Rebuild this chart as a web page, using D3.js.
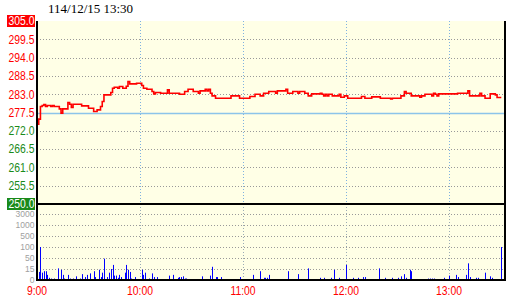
<!DOCTYPE html>
<html>
<head>
<meta charset="utf-8">
<script src="https://cdn.jsdelivr.net/npm/d3@7.9.0/dist/d3.min.js"></script>
<style>
  body { margin: 0; background: #fff; }
  svg { display: block; }
  text { font-family: 'Liberation Sans', Arial, sans-serif; }
  text.title { font-family: 'Liberation Serif', serif; }
</style>
</head>
<body>
<svg id="chart"></svg>
<script>
// data (time of trade, price / volume)
const title = '114/12/15 13:30';
const priceTicks = [305.0, 299.5, 294.0, 288.5, 283.0, 277.5, 272.0, 266.5, 261.0, 255.5, 250.0];
const refPrice = 277.5;
const volTicks = [0, 15, 50, 100, 500, 1000, 3000];
const hourTicks = ['9:00', '10:00', '11:00', '12:00', '13:00'];

const priceTimes = ['9:00', '9:01', '9:02', '9:03', '9:04', '9:05', '9:06', '9:08', '9:09', '9:10',
  '9:13', '9:14', '9:15', '9:18', '9:19', '9:20', '9:21', '9:26', '9:30', '9:33',
  '9:35', '9:37', '9:38', '9:39', '9:43', '9:44', '9:45', '9:47', '9:48', '9:50',
  '9:52', '9:53', '9:54', '9:58', '10:01', '10:02', '10:04', '10:07', '10:08', '10:09',
  '10:12', '10:16', '10:17', '10:23', '10:26', '10:28', '10:31', '10:34', '10:35', '10:38',
  '10:39', '10:40', '10:41', '10:42', '10:44', '10:53', '10:58', '11:04', '11:07', '11:10',
  '11:12', '11:15', '11:19', '11:20', '11:25', '11:26', '11:29', '11:32', '11:33', '11:36',
  '11:38', '11:40', '11:45', '11:46', '11:47', '11:48', '11:49', '11:50', '11:52', '11:56',
  '11:57', '11:59', '12:01', '12:09', '12:11', '12:15', '12:20', '12:26', '12:27', '12:32',
  '12:34', '12:35', '12:38', '12:43', '12:44', '12:46', '12:50', '12:51', '12:52', '12:53',
  '12:54', '13:05', '13:11', '13:12', '13:18', '13:19', '13:21', '13:24', '13:27', '13:28', '13:30'];
const prices = [274.0, 275.5, 279.3, 279.6, 279.9, 279.3, 279.6, 279.3, 279.6, 279.3,
  278.6, 277.3, 278.6, 280.5, 280.0, 279.0, 280.0, 279.5, 278.8, 277.8,
  278.3, 279.3, 280.8, 282.8, 283.5, 284.8, 285.1, 284.8, 285.3, 284.8,
  285.4, 286.8, 286.1, 286.3, 285.6, 284.8, 284.5, 283.8, 283.1, 283.5,
  283.3, 284.3, 283.3, 283.0, 283.8, 284.5, 283.8, 283.3, 284.0, 284.5,
  284.0, 284.5, 283.3, 282.5, 281.8, 282.5, 281.8, 282.3, 283.0, 282.5,
  283.3, 283.8, 283.3, 284.0, 284.5, 283.3, 283.8, 283.3, 283.8, 283.3,
  282.5, 283.1, 283.3, 283.0, 282.5, 283.0, 282.5, 283.0, 282.5, 283.0,
  282.1, 282.5, 281.8, 282.3, 281.8, 282.2, 281.8, 281.6, 281.8, 282.5,
  283.8, 283.3, 282.5, 282.1, 282.5, 283.0, 282.5, 283.3, 283.0, 282.5,
  283.1, 283.3, 284.0, 282.5, 283.3, 282.5, 281.8, 283.1, 282.8, 282.0, 281.8];

const volTimes = ['9:00', '9:01', '9:02', '9:03', '9:04', '9:05', '9:06', '9:07', '9:08', '9:09',
  '9:10', '9:11', '9:12', '9:14', '9:15', '9:16', '9:18', '9:19', '9:21', '9:22',
  '9:23', '9:25', '9:26', '9:28', '9:29', '9:31', '9:33', '9:34', '9:36', '9:37',
  '9:38', '9:39', '9:41', '9:42', '9:43', '9:44', '9:45', '9:46', '9:47', '9:48',
  '9:49', '9:51', '9:52', '9:53', '9:54', '9:55', '9:57', '9:58', '9:59', '10:01',
  '10:02', '10:03', '10:05', '10:07', '10:08', '10:10', '10:12', '10:14', '10:15', '10:17',
  '10:19', '10:22', '10:23', '10:24', '10:25', '10:26', '10:27', '10:32', '10:36', '10:41',
  '10:42', '10:44', '10:45', '10:47', '10:58', '11:06', '11:08', '11:09', '11:10', '11:12',
  '11:13', '11:14', '11:15', '11:17', '11:19', '11:21', '11:23', '11:24', '11:26', '11:28',
  '11:31', '11:32', '11:34', '11:36', '11:38', '11:39', '11:40', '11:45', '11:47', '11:51',
  '11:53', '11:56', '12:00', '12:01', '12:02', '12:03', '12:04', '12:07', '12:10', '12:11',
  '12:15', '12:17', '12:19', '12:20', '12:23', '12:27', '12:28', '12:30', '12:31', '12:32',
  '12:33', '12:34', '12:35', '12:37', '12:38', '12:40', '12:47', '12:48', '12:49', '12:50',
  '12:51', '12:54', '12:56', '12:57', '12:59', '13:00', '13:02', '13:04', '13:05', '13:08',
  '13:10', '13:11', '13:12', '13:16', '13:17', '13:19', '13:21', '13:22', '13:24', '13:25', '13:30'];
const volumes = [35, 11, 100, 10, 12, 12, 7, 3, 2, 1,
  2, 1, 17, 14, 7, 2, 7, 2, 2, 1,
  5, 2, 8, 4, 7, 9, 12, 4, 14, 4,
  10, 48, 4, 10, 15, 28, 6, 6, 3, 7,
  4, 10, 28, 14, 11, 2, 4, 1, 1, 14,
  7, 10, 2, 9, 4, 4, 1, 1, 1, 6,
  7, 3, 4, 4, 5, 2, 2, 1, 5, 6,
  22, 4, 4, 4, 4, 7, 1, 1, 12, 3,
  3, 3, 7, 1, 1, 1, 1, 1, 12, 1,
  1, 8, 1, 1, 17, 1, 1, 3, 3, 3,
  14, 3, 28, 1, 1, 1, 3, 3, 4, 4,
  1, 1, 17, 1, 3, 3, 1, 3, 1, 5,
  1, 8, 3, 14, 12, 1, 1, 2, 2, 2,
  2, 1, 1, 3, 1, 6, 1, 7, 4, 1,
  7, 33, 4, 3, 3, 1, 10, 1, 5, 3, 100];

const toMin = (s) => {
  const [h, m] = s.split(':').map(Number);
  return (h - 9) * 60 + m;
};

const width = 520;
const height = 300;
const plotLeft = 37;
const plotRight = 505;
const plotTop = 21;
const plotSplit = 204;
const plotBottom = 280;
const squeeze = 0.865; // labels in the reference use a narrow face

const svg = d3.select('#chart').attr('width', width).attr('height', height);

const xScale = d3.scaleLinear().domain([0, 270]).range([plotLeft, 500.5]);
const yScale = d3.scaleLinear().domain([250, 305]).range([plotSplit, plotTop]);
const vScale = d3
  .scaleLinear()
  .domain(volTicks)
  .range(volTicks.map((d, i) => plotBottom - i * 11))
  .clamp(true);

// panel background
svg.append('rect')
  .attr('x', plotLeft).attr('y', plotTop)
  .attr('width', plotRight - plotLeft).attr('height', plotBottom - plotTop)
  .attr('fill', '#ffffe6');

// price grid
svg.append('g')
  .selectAll('line')
  .data(priceTicks.filter((d) => d !== refPrice && d !== 305 && d !== 250))
  .join('line')
  .attr('x1', plotLeft).attr('x2', plotRight)
  .attr('y1', (d) => Math.round(yScale(d)) + 0.5)
  .attr('y2', (d) => Math.round(yScale(d)) + 0.5)
  .attr('stroke', '#999')
  .attr('stroke-dasharray', '1,2');

// volume grid
svg.append('g')
  .selectAll('line')
  .data(volTicks.slice(1))
  .join('line')
  .attr('x1', plotLeft).attr('x2', plotRight)
  .attr('y1', (d) => Math.round(vScale(d)) + 0.5)
  .attr('y2', (d) => Math.round(vScale(d)) + 0.5)
  .attr('stroke', '#999')
  .attr('stroke-dasharray', '1,2');

// hour grid
const hourGrid = svg.append('g')
  .selectAll('g')
  .data(hourTicks.slice(1))
  .join('g');
hourGrid.append('line')
  .attr('x1', (d) => Math.round(xScale(toMin(d))) + 0.5)
  .attr('x2', (d) => Math.round(xScale(toMin(d))) + 0.5)
  .attr('y1', plotTop).attr('y2', plotSplit)
  .attr('stroke', '#7fb2e0')
  .attr('stroke-dasharray', '1,2');
hourGrid.append('line')
  .attr('x1', (d) => Math.round(xScale(toMin(d))) + 0.5)
  .attr('x2', (d) => Math.round(xScale(toMin(d))) + 0.5)
  .attr('y1', plotSplit).attr('y2', plotBottom)
  .attr('stroke', '#9aabb5')
  .attr('stroke-dasharray', '1,2');

// reference (previous close)
svg.append('line')
  .attr('x1', plotLeft).attr('x2', plotRight)
  .attr('y1', Math.round(yScale(refPrice)) + 0.5)
  .attr('y2', Math.round(yScale(refPrice)) + 0.5)
  .attr('stroke', '#8cc4ea')
  .attr('stroke-width', 1.5);

// volume bars
svg.append('g')
  .selectAll('rect')
  .data(volumes)
  .join('rect')
  .attr('x', (d, i) => Math.round(xScale(toMin(volTimes[i]))))
  .attr('y', (d) => vScale(d))
  .attr('width', 1)
  .attr('height', (d) => plotBottom - vScale(d))
  .attr('fill', '#0000ff');

// price line
const line = d3.line()
  .x((d, i) => xScale(toMin(priceTimes[i])))
  .y((d) => yScale(d))
  .curve(d3.curveStepAfter);

svg.append('path')
  .datum(prices)
  .attr('d', line)
  .attr('fill', 'none')
  .attr('stroke', '#ff0000')
  .attr('stroke-width', 1.6);

// frame
const frame = svg.append('g').attr('stroke', '#000').attr('stroke-width', 2);
frame.append('line').attr('x1', plotLeft).attr('x2', plotLeft).attr('y1', plotTop).attr('y2', plotBottom + 1);
frame.append('line').attr('x1', plotRight).attr('x2', plotRight).attr('y1', plotTop).attr('y2', plotBottom + 1);
frame.append('line').attr('x1', plotLeft).attr('x2', plotRight).attr('y1', plotSplit).attr('y2', plotSplit);
frame.append('line').attr('x1', plotLeft).attr('x2', plotRight).attr('y1', plotBottom).attr('y2', plotBottom);

// price labels
const pLabels = svg.append('g')
  .selectAll('g')
  .data(priceTicks)
  .join('g')
  .attr('transform', (d) => `translate(0,${yScale(d)})`);
pLabels.filter((d) => d === 305 || d === 250)
  .append('rect')
  .attr('x', 7).attr('y', -6)
  .attr('width', 28).attr('height', 12)
  .attr('fill', (d) => (d >= refPrice ? '#ff0000' : '#1a8a1a'));
pLabels.append('text')
  .attr('transform', `translate(34.5,0) scale(${squeeze},1)`)
  .attr('dy', '0.36em')
  .attr('text-anchor', 'end')
  .attr('font-size', 12)
  .attr('fill', (d) => (d === 305 || d === 250 ? '#fff' : d >= refPrice ? '#ff0000' : '#1a8a1a'))
  .text((d) => d.toFixed(1));

// volume labels
svg.append('g')
  .selectAll('text')
  .data(volTicks)
  .join('text')
  .attr('transform', (d) => `translate(34.5,${vScale(d)}) scale(0.95,1)`)
  .attr('dy', '0.36em')
  .attr('text-anchor', 'end')
  .attr('font-size', 9)
  .attr('fill', '#a0a0a0')
  .text((d) => d);

// time labels
svg.append('g')
  .selectAll('text')
  .data(hourTicks)
  .join('text')
  .attr('transform', (d) => `translate(${xScale(toMin(d))},291) scale(${squeeze},1)`)
  .attr('dy', '0.36em')
  .attr('text-anchor', 'middle')
  .attr('font-size', 12)
  .attr('fill', '#ff0000')
  .text((d) => d);

// title
svg.append('text')
  .attr('class', 'title')
  .attr('x', 48)
  .attr('y', 8)
  .attr('dy', '0.36em')
  .attr('font-size', 13)
  .attr('fill', '#000')
  .text(title);
</script>
</body>
</html>
